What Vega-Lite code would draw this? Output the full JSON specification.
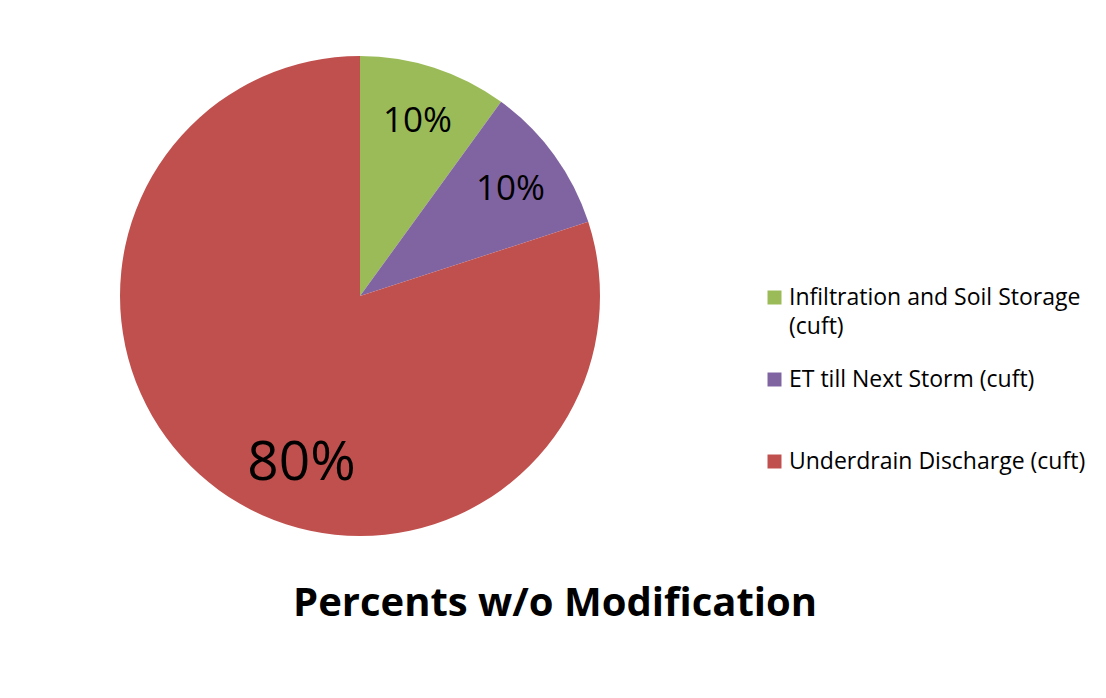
{
  "$schema": "https://vega.github.io/schema/vega-lite/v6.json",
  "width": 480,
  "height": 480,
  "padding": {"left": 120, "top": 56, "right": 10, "bottom": 50},
  "background": "white",
  "config": {"view": {"stroke": null}},
  "title": {
    "text": "Percents w/o Modification",
    "orient": "bottom",
    "anchor": "middle",
    "dx": 195,
    "offset": 48,
    "font": "Open Sans",
    "fontSize": 40,
    "fontWeight": "bold",
    "color": "black"
  },
  "data": {
    "values": [
      {"category": "Infiltration and Soil Storage (cuft)", "share": 0.1, "rank": 1},
      {"category": "ET till Next Storm (cuft)", "share": 0.1, "rank": 2},
      {"category": "Underdrain Discharge (cuft)", "share": 0.8, "rank": 3}
    ]
  },
  "encoding": {
    "theta": {"field": "share", "type": "quantitative", "stack": true},
    "order": {"field": "rank", "type": "quantitative", "sort": "ascending"}
  },
  "layer": [
    {
      "mark": {"type": "arc", "outerRadius": 240},
      "encoding": {
        "color": {
          "field": "category",
          "type": "nominal",
          "sort": ["Infiltration and Soil Storage (cuft)", "ET till Next Storm (cuft)", "Underdrain Discharge (cuft)"],
          "scale": {
            "domain": ["Infiltration and Soil Storage (cuft)", "ET till Next Storm (cuft)", "Underdrain Discharge (cuft)"],
            "range": ["#9BBB59", "#8064A2", "#C0504D"]
          },
          "legend": {
            "orient": "none",
            "legendX": 643,
            "legendY": 230,
            "title": null,
            "symbolType": "square",
            "symbolSize": 196,
            "symbolStrokeWidth": 0,
            "labelFont": "Open Sans",
            "labelFontSize": 23,
            "labelColor": "black",
            "labelLimit": 500,
            "labelOffset": 3,
            "rowPadding": 29,
            "labelExpr": "datum.label == 'Infiltration and Soil Storage (cuft)' ? ['Infiltration and Soil Storage', '(cuft)'] : [datum.label, '']",
            "encode": {"labels": {"update": {"lineHeight": {"value": 29}}}}
          }
        }
      }
    },
    {
      "mark": {"type": "text", "radius": 186, "font": "Open Sans", "fontSize": 35, "color": "black", "baseline": "middle", "align": "center", "dy": 2},
      "encoding": {
        "text": {"condition": {"test": "datum.share < 0.5", "field": "share", "type": "quantitative", "format": ".0%"}, "value": ""}
      }
    },
    {
      "mark": {"type": "text", "radius": 188, "font": "Open Sans", "fontSize": 55, "color": "black", "baseline": "middle", "align": "center", "dx": 52, "dy": 15},
      "encoding": {
        "text": {"condition": {"test": "datum.share >= 0.5", "field": "share", "type": "quantitative", "format": ".0%"}, "value": ""}
      }
    }
  ]
}
